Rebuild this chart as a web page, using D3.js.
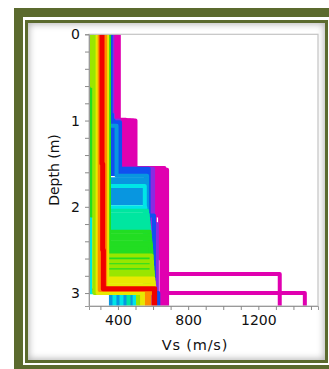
<!DOCTYPE html>
<html><head><meta charset="utf-8">
<script src="https://cdn.jsdelivr.net/npm/d3@7"></script>
<style>
html,body{margin:0;padding:0;background:#fff;width:329px;height:369px;overflow:hidden;position:relative;}
.box{position:absolute;}
#chart{position:absolute;left:0;top:0;}
</style></head>
<body>
<div class="box" style="left:14px;top:8px;width:400px;height:400px;background:#5b6a2e;"></div>
<div class="box" style="left:23px;top:17px;width:307px;height:348px;background:#fff;"></div>
<div class="box" style="left:25px;top:20px;width:303px;height:343px;background:#5b6a2e;"></div>
<div class="box" style="left:28px;top:23px;width:297px;height:337px;background:#fff;box-shadow:inset 0 0 7px 1px rgba(0,0,0,0.3);"></div>
<svg id="chart" width="329" height="369"></svg>
<script>
// ---------------- data ----------------
// Each profile: Vs layer, bottom depth, Vs layer, bottom depth, ..., Vs half-space
// Misfit classes from worst (0) to best (10)
const profilesC0 = [
  [395, 1.0, 470, 1.55, 665, 2.78, 1322],
  [383, 1.0, 500, 1.56, 650, 3.0, 1465],
  [405, 1.01, 430, 1.57, 680],
  [388, 0.99, 445, 1.55, 625, 2.1, 662],
  [400, 1.0, 487, 1.55, 640, 2.6, 672],
  [392, 1.02, 458, 1.56, 610, 2.4, 648]
];
const profilesC1 = [
  [368, 0.93, 372, 1.56, 600],
  [366, 1.0, 408, 1.6, 592, 2.2, 622]
];
const profilesC2 = [
  [356, 0.93, 366, 1.58, 570, 2.1, 605, 3.0, 630],
  [358, 1.0, 375, 1.56, 575, 3.0, 372],
  [354, 1.02, 412, 1.6, 565, 3.0, 405],
  [350, 1.62, 560, 3.0, 450],
  [252, 0.6, 248, 2.1, 239, 2.97, 440]
];
const profilesC3 = [
  [345, 1.06, 392, 1.64, 566, 3.0, 360],
  [345, 1.68, 562, 3.0, 400],
  [345, 1.72, 564, 3.0, 440],
  [345, 1.80, 560, 3.0, 480],
  [345, 1.84, 562, 3.0, 535],
  [345, 1.88, 565, 3.0, 535],
  [345, 1.92, 562, 3.0, 535],
  [345, 1.96, 566, 3.0, 535]
];
const profilesC4 = [
  [345, 1.76, 553, 3.0, 380],
  [345, 2.005, 556, 3.0, 420],
  [252, 0.6, 246, 2.1, 243, 2.99, 495]
];
const profilesC5 = [
  [345, 2.045, 566, 3.0, 460],
  [345, 2.09, 570, 3.0, 535],
  [345, 2.13, 572, 3.0, 535],
  [345, 2.17, 574, 3.0, 535],
  [345, 2.21, 576, 3.0, 535],
  [345, 2.25, 578, 3.0, 535]
];
const profilesC6 = [
  [347, 2.29, 580, 3.0, 535],
  [347, 2.33, 582, 3.0, 535],
  [347, 2.37, 584, 3.0, 535],
  [347, 2.41, 586, 3.0, 535],
  [347, 2.45, 588, 3.0, 535],
  [347, 2.49, 590, 3.0, 535],
  [347, 2.53, 590, 3.0, 535],
  [347, 2.60, 592, 3.0, 535],
  [347, 2.66, 594, 3.0, 535],
  [347, 2.72, 596, 3.0, 535],
  [252, 0.6, 246, 2.1, 348, 2.44, 588, 3.0, 535]
];
const profilesC7 = [
  [252, 0.6, 266, 2.99, 515],
  [266, 3.0, 515],
  [336, 2.565, 592, 3.0, 535],
  [336, 2.63, 594, 3.0, 535],
  [336, 2.69, 596, 3.0, 535],
  [336, 2.75, 598, 3.0, 535],
  [336, 2.79, 600, 3.0, 535]
];
const profilesC8 = [
  [284, 3.0, 540],
  [338, 2.83, 602, 3.0, 540],
  [338, 2.87, 604, 3.0, 540],
  [338, 2.91, 606, 3.0, 540]
];
const profilesC9 = [
  [296, 2.965, 565],
  [327, 2.96, 580]
];
const profilesC10 = [
  [306, 1.5, 310, 2.5, 314, 2.955, 604],
  [312, 1.5, 316, 2.5, 320, 2.945, 612]
];
const xTickValues = [300, 400, 500, 600, 700, 800, 900, 1000, 1100, 1200, 1300, 1400, 1500];
const xTickLabels = [400, 800, 1200];
const yTickValues = [0, 0.2, 0.4, 0.6, 0.8, 1, 1.2, 1.4, 1.6, 1.8, 2, 2.2, 2.4, 2.6, 2.8, 3];
const yTickLabels = [0, 1, 2, 3];
const xTitle = "Vs (m/s)";
const yTitle = "Depth (m)";

// ---------------- styles ----------------
const classColors = ["#e000b0", "#8a2be2", "#1050f0", "#0896e0", "#00e6e6", "#00e6a0",
                     "#22dd22", "#99e600", "#e8e800", "#ff8c00", "#f00000"];
const groups = [profilesC0, profilesC1, profilesC2, profilesC3, profilesC4, profilesC5,
                profilesC6, profilesC7, profilesC8, profilesC9, profilesC10];

const plot = {left: 89, right: 318, top: 34.3, bottom: 306};
const x = d3.scaleLinear().domain([235, 1540]).range([plot.left, plot.right]);
const y = d3.scaleLinear().domain([0, 3.15]).range([plot.top, plot.bottom]);

const svg = d3.select("#chart");
svg.append("rect").attr("x", plot.left).attr("y", plot.top)
  .attr("width", plot.right - plot.left).attr("height", plot.bottom - plot.top)
  .attr("fill", "#fff");

svg.append("clipPath").attr("id", "clip").append("rect")
  .attr("x", plot.left).attr("y", plot.top)
  .attr("width", plot.right - plot.left).attr("height", plot.bottom - plot.top);

function profilePoints(p) {
  const pts = [];
  let top = 0;
  for (let i = 0; i < p.length; i += 2) {
    const v = p[i];
    const bottom = (i + 1 < p.length) ? p[i + 1] : 4;
    pts.push([v, top], [v, bottom]);
    top = bottom;
  }
  return pts;
}
const line = d3.line().x(d => x(d[0])).y(d => y(d[1]));
const gProf = svg.append("g").attr("clip-path", "url(#clip)");
groups.forEach((grp, ci) => {
  gProf.selectAll(null).data(grp).enter().append("path")
    .attr("d", p => line(profilePoints(p)))
    .attr("fill", "none")
    .attr("stroke", classColors[ci])
    .attr("stroke-width", 4)
    .attr("stroke-linejoin", "round");
});

// frame
svg.append("rect").attr("x", plot.left).attr("y", plot.top)
  .attr("width", plot.right - plot.left).attr("height", plot.bottom - plot.top)
  .attr("fill", "none").attr("stroke", "#c4c4c4").attr("stroke-width", 1.2);

const font = "DejaVu Sans, Verdana, sans-serif";
const xAxis = d3.axisBottom(x).tickValues(xTickValues).tickSize(4).tickPadding(5)
  .tickFormat(d => xTickLabels.includes(d) ? String(d) : "");
const gx = svg.append("g").attr("transform", `translate(0,${plot.bottom})`).call(xAxis);
const yAxis = d3.axisLeft(y).tickValues(yTickValues).tickSize(4).tickPadding(5)
  .tickFormat(d => yTickLabels.some(t => Math.abs(t - d) < 1e-9) ? String(Math.round(d)) : "");
const gy = svg.append("g").attr("transform", `translate(${plot.left},0)`).call(yAxis);
[gx, gy].forEach(g => {
  g.select(".domain").attr("stroke", "#9a9a9a");
  g.selectAll(".tick line").attr("stroke", "#8a8a8a");
  g.selectAll(".tick text").attr("font-family", font).attr("font-size", 14).attr("fill", "#111");
});

svg.append("text").attr("x", 195).attr("y", 350).attr("text-anchor", "middle")
  .attr("font-family", font).attr("font-size", 14.5).attr("letter-spacing", 0.8)
  .attr("fill", "#111").text(xTitle);
svg.append("text").attr("transform", "translate(59,170) rotate(-90)").attr("text-anchor", "middle")
  .attr("font-family", font).attr("font-size", 14).attr("fill", "#111").text(yTitle);
</script>
</body></html>
